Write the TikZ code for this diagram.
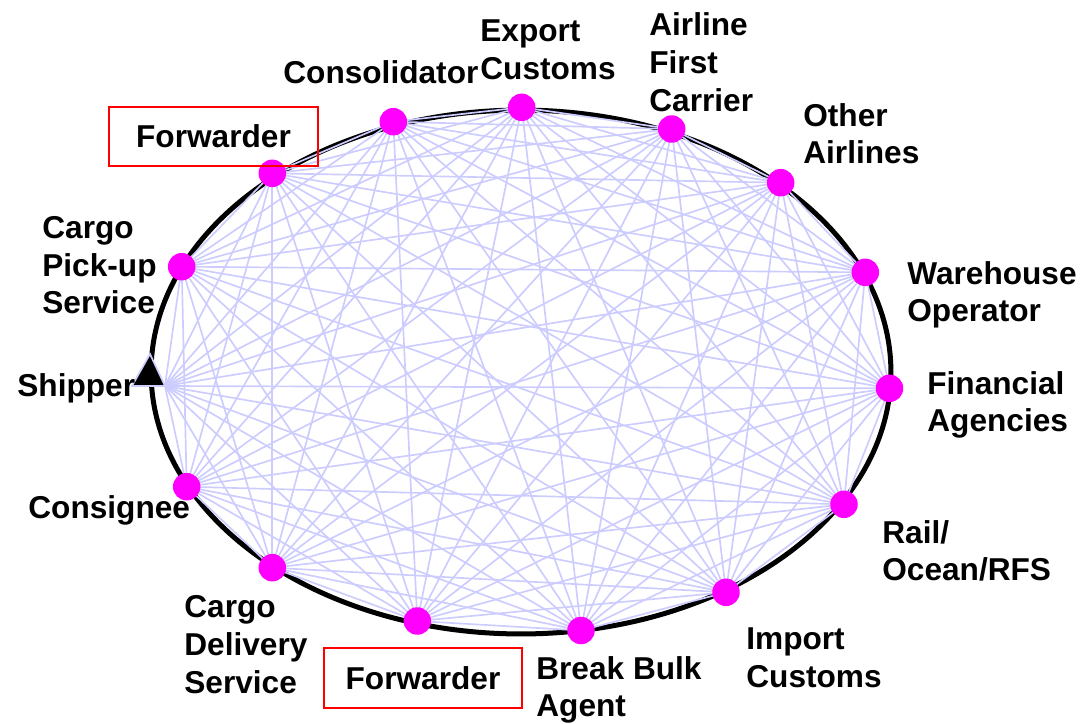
\documentclass[tikz,border=0pt]{standalone}
\usepackage{fontspec}
\setmainfont{Liberation Sans}
\definecolor{lav}{RGB}{204,204,255}
\definecolor{mag}{RGB}{255,0,255}
\begin{document}
\begin{tikzpicture}[x=0.02cm,y=-0.02cm,
  dot/.style={circle,fill=mag,inner sep=0pt,minimum size=0.55cm},
  edge/.style={draw=lav,line width=0.95pt},
  lbl/.style={font=\fontsize{18}{21.5}\selectfont\bfseries,align=left,anchor=west,inner sep=0pt,text depth=0pt},
  fwd/.style={draw=red,line width=1.2pt,font=\fontsize{18}{21.5}\selectfont\bfseries,inner sep=0pt,text height=12.9pt,text depth=0pt}]
\useasboundingbox (0,0) rectangle (1083,724);
% ring
\draw[line width=0.1cm] (521,372) ellipse [x radius=7.4cm, y radius=5.24cm];
% positions
\coordinate (n1) at (393.3,121.7);  % Consolidator
\coordinate (n2) at (521.7,107.3);  % Export Customs
\coordinate (n3) at (671.7,129);    % Airline First Carrier
\coordinate (n4) at (780.7,182.7);  % Other Airlines
\coordinate (n5) at (865.3,272.3);  % Warehouse Operator
\coordinate (n6) at (889.5,388.3);  % Financial Agencies
\coordinate (n7) at (844,504.3);    % Rail/Ocean/RFS
\coordinate (n8) at (726,592.3);    % Import Customs
\coordinate (n9) at (581,630.5);    % Break Bulk Agent
\coordinate (n10) at (417.3,621);   % Forwarder (bottom)
\coordinate (n11) at (272.3,567.7); % Cargo Delivery Service
\coordinate (n12) at (186.7,486.7); % Consignee
\coordinate (n13) at (165,386);     % Shipper
\coordinate (n14) at (181.7,266.7); % Cargo Pick-up Service
\coordinate (n15) at (272.3,173.3); % Forwarder (top)
% all connections
\foreach \i in {1,...,14} {
  \pgfmathtruncatemacro{\k}{\i+1}
  \foreach \j in {\k,...,15} { \draw[edge] (n\i) -- (n\j); }
}
% shipper triangle
\filldraw[fill=black,draw=lav,line width=0.95pt] (n13) -- ++(-33,0) -- ++(18,-32) -- cycle;
% dots
\foreach \i in {1,...,12,14,15} { \node[dot] (d\i) at (n\i) {}; }
% labels
\node[lbl] (l1) at (283,72) {Consolidator};
\node[lbl] (l2) at (480,49.5) {Export\\Customs};
\node[lbl] (l3) at (649,62) {Airline\\First\\Carrier};
\node[lbl] (l4) at (803,133.5) {Other\\Airlines};
\node[lbl] (l5) at (907,291.5) {Warehouse\\Operator};
\node[lbl] (l6) at (927,401.5) {Financial\\Agencies};
\node[lbl] (l7) at (882,550.5) {Rail/\\Ocean/RFS};
\node[lbl] (l8) at (746,657.5) {Import\\Customs};
\node[lbl] (l9) at (536,686.5) {Break Bulk\\Agent};
\node[lbl] (l11) at (184,644.3) {Cargo\\Delivery\\Service};
\node[lbl] (l12) at (28,507) {Consignee};
\node[lbl] (l13) at (17,385) {Shipper};
\node[lbl] (l14) at (42,265) {Cargo\\Pick-up\\Service};
\node[fwd,minimum width=4.18cm,minimum height=1.18cm] (l15) at (213.5,136.5) {Forwarder};
\node[fwd,minimum width=3.96cm,minimum height=1.2cm] (l10) at (423,678) {Forwarder};
\end{tikzpicture}
\end{document}
